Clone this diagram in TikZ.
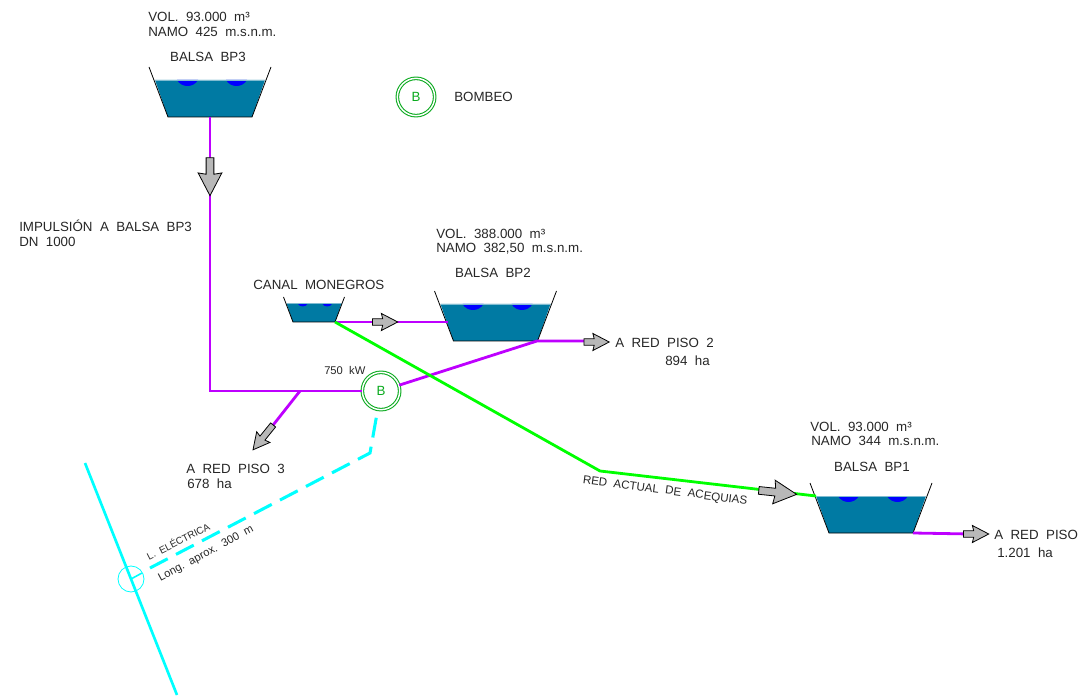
\documentclass[tikz,border=0pt]{standalone}
\usepackage{fontspec}
\setmainfont{Liberation Sans}
\usepackage{xcolor}
\usetikzlibrary{arrows.meta, positioning, shapes.arrows, calc}
\definecolor{agua}{RGB}{0,122,163}
\definecolor{morado}{RGB}{190,0,255}
\definecolor{verde}{RGB}{0,255,0}
\definecolor{cian}{RGB}{0,255,255}
\definecolor{bomba}{RGB}{10,170,30}
\tikzset{
    tubo/.style={line width=2.1pt},
    rotulo/.style={inner sep=0pt, anchor=west, font=\fontsize{10}{11}\selectfont, text=black!85},
    rotulochico/.style={inner sep=0pt, font=\fontsize{8.4}{9}\selectfont, text=black!85},
    flecha/.style={single arrow, draw=black, fill=black!28, line width=0.6pt,
        single arrow tip angle=55, single arrow head indent=1pt},
    flechagrande/.style={flecha, inner sep=2.6pt, minimum height=28.5pt, single arrow head extend=6pt},
    flechachica/.style={flecha, inner sep=2.1pt, minimum height=19pt, single arrow head extend=4pt},
    bombeo/.style={circle, draw=bomba, double=white, double distance=1.1pt, line width=0.8pt,
        minimum size=28pt, inner sep=0pt, text=bomba, font=\fontsize{10}{11}\selectfont}
}
\begin{document}
\begin{tikzpicture}[x=0.75pt,y=-0.75pt]
    \useasboundingbox (0,0) rectangle (1078,698);
    % Balsa: nombre, centro x, fondo y, escala
    \def\balsa#1#2#3#4{
        \coordinate (#1bl) at (#2-42*#4, #3);
        \coordinate (#1br) at (#2+42*#4, #3);
        \coordinate (#1wl) at (#2-55*#4, #3-37*#4);
        \coordinate (#1wr) at (#2+55*#4, #3-37*#4);
        \coordinate (#1rl) at (#2-61*#4, #3-50*#4);
        \coordinate (#1rr) at (#2+61*#4, #3-50*#4);
        \fill[agua] (#1bl) -- (#1wl) -- (#1wr) -- (#1br) -- cycle;
        \foreach \dx in {-22.5,26.5} {
            \fill[blue] (#2+\dx*#4-10.5*#4, #3-37*#4) .. controls (#2+\dx*#4-6*#4, #3-29*#4) and (#2+\dx*#4+6*#4, #3-29*#4) .. (#2+\dx*#4+10.5*#4, #3-37*#4) -- cycle;
        }
        \draw[agua!50, line width=0.5pt] (#1wl) -- (#1wr);
        \draw[black, line width=0.6pt] (#1rl) -- (#1bl) -- (#1br) -- (#1rr);
    }
    % Tuberias
    \coordinate (codo) at (210,391);
    \coordinate (rama) at (300,391);
    \coordinate (nudo) at (537,341);
    \coordinate (finPiso2) at (590,341);
    \coordinate (finPiso3) at (270,429);
    \coordinate (finPiso1) at (970,534);
    \coordinate (entradaBPd) at (448,322);
    \coordinate (quiebro) at (600,471);
    \coordinate (lineaA) at (85,463);
    \coordinate (lineaB) at (177,695);
    \coordinate (acometida) at (150,568);
    \coordinate (apoyo) at (370,453);
    \node[bombeo] (bomba) at (381,391) {B};
    \node[bombeo] (leyenda) at (416,97) {B};
    \node[circle, draw=cian, line width=0.6pt, minimum size=19.5pt, inner sep=0pt] (torre) at (131,579) {};
    \balsa{bpt}{210}{117}{1}
    \balsa{bpd}{495.5}{341}{1}
    \balsa{bpu}{871}{533}{1}
    \balsa{can}{314}{322}{0.5}
    \draw[tubo, morado] (bptbl -| codo) -- (codo) -- (bomba);
    \draw[tubo, morado] (rama) -- (finPiso3);
    \draw[tubo, morado] (bomba) -- (nudo) -- (finPiso2);
    \draw[tubo, morado] (canbr) -- (entradaBPd);
    \draw[tubo, morado] (bpubr) -- (finPiso1);
    \draw[tubo, verde] (canbr) -- (quiebro) -- (bpuwl);
    \draw[cian, line width=2pt] (lineaA) -- (lineaB);
    \draw[cian, line width=1.2pt] (torre.center) -- (142,573);
    \draw[cian, line width=2.3pt, dash pattern=on 15pt off 7pt] (acometida) -- (apoyo) -- (bomba);
    % Flechas
    \node[flechagrande, rotate=-90] (f1) at (210,173) {};
    \node[flechagrande, rotate=-6] (f2) at (774,492) {};
    \node[flechachica] (f3) at (382,322) {};
    \node[flechachica] (f4) at (593.5,342) {};
    \node[flechachica] (f5) at (973,534) {};
    \node[flechachica, minimum height=24pt, rotate=-129] (f6) at (265,435) {};
    % Rotulos
    \node[rotulo] (volBPt) at (148,17) {VOL.~~93.000~~m³};
    \node[rotulo] (namoBPt) at (148,32) {NAMO~~425~~m.s.n.m.};
    \node[rotulo, anchor=center] (nomBPt) at (208,57) {BALSA~~BP3};
    \node[rotulo] (volBPd) at (436,234) {VOL.~~388.000~~m³};
    \node[rotulo] (namoBPd) at (436,249) {NAMO~~382,50~~m.s.n.m.};
    \node[rotulo, anchor=center] (nomBPd) at (493,273) {BALSA~~BP2};
    \node[rotulo] (volBPu) at (810,427) {VOL.~~93.000~~m³};
    \node[rotulo] (namoBPu) at (811,441) {NAMO~~344~~m.s.n.m.};
    \node[rotulo, anchor=center] (nomBPu) at (872,467) {BALSA~~BP1};
    \node[rotulo] (txtCanal) at (253,285) {CANAL~~MONEGROS};
    \node[rotulochico, anchor=west] (txtKw) at (324,370) {750~~kW};
    \node[rotulo] (txtBombeo) at (454,97) {BOMBEO};
    \node[rotulo] (txtImp) at (19,226) {IMPULSIÓN~~A~~BALSA~~BP3};
    \node[rotulo] (txtDn) at (19,242) {DN~~1000};
    \node[rotulo] (txtPisoD) at (615,343) {A~~RED~~PISO~~2};
    \node[rotulo] (txtHaD) at (665,361) {894~~ha};
    \node[rotulo] (txtPisoT) at (186,469) {A~~RED~~PISO~~3};
    \node[rotulo] (txtHaT) at (187,484) {678~~ha};
    \node[rotulo] (txtPisoU) at (994,535) {A~~RED~~PISO};
    \node[rotulo] (txtHaU) at (997,553) {1.201~~ha};
    \node[rotulochico, rotate=-7.5, font=\fontsize{8.7}{9}\selectfont] (txtRed) at (665,491) {RED~~ACTUAL~~DE~~ACEQUIAS};
    \node[rotulochico, rotate=27, font=\fontsize{7.4}{8}\selectfont] (txtLinea) at (178,541) {L.~~ELÉCTRICA};
    \node[rotulochico, rotate=28] (txtLong) at (206,554) {Long.~~aprox.~~300~~m};
\end{tikzpicture}
\end{document}
